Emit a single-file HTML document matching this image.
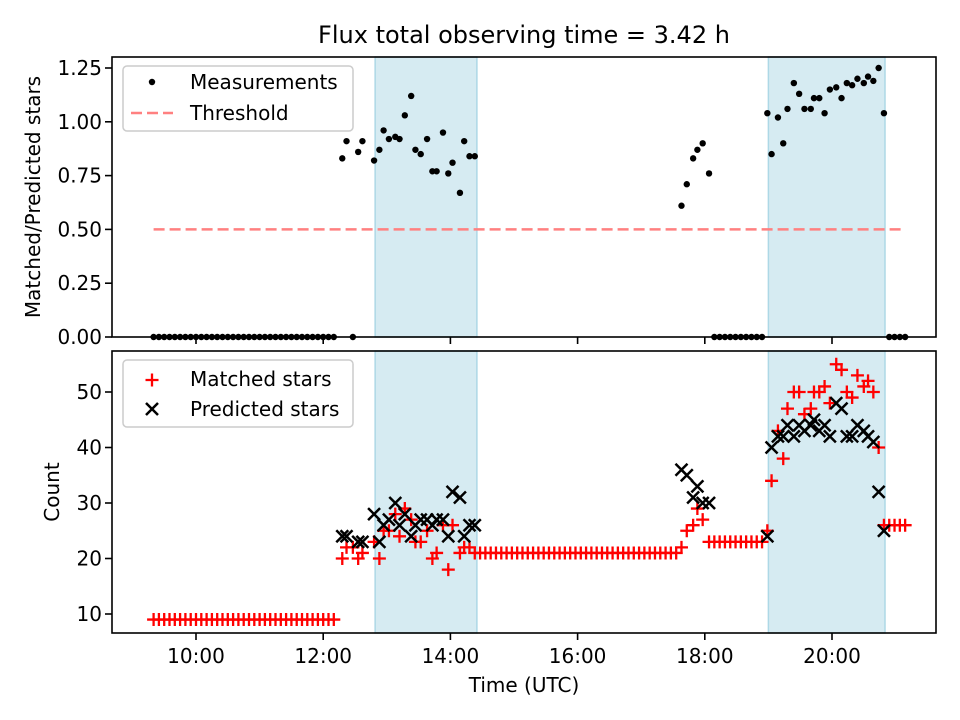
<!DOCTYPE html>
<html><head><meta charset="utf-8"><style>
body{margin:0;background:#fff}
svg{display:block;font-family:"DejaVu Sans","Liberation Sans",sans-serif}
</style></head><body>
<svg id="chart" width="960" height="720" viewBox="0 0 960 720"></svg>
<script>
// time in minutes since midnight
const times = [560,565,570,575,580,585,590,595,600,605,610,615,620,625,630,635,640,645,650,655,660,665,670,675,680,685,690,695,700,705,710,715,720,725,730,
738,742,748,753,757,768,773,777,782,788,792,797,803,807,812,818,823,827,833,838,842,849,853,858,863,
868,873,878,883,888,893,898,903,908,913,918,923,928,933,938,943,948,953,958,963,968,973,978,983,988,993,998,1003,1008,1013,1018,1023,1028,1033,1038,1043,1048,1053,
1058,1063,1069,1073,1078,1084,
1089,1094,1099,1104,1109,1114,1119,1124,1129,1134,
1139,1143,1149,1154,1158,1164,1169,1174,1180,1183,1188,1193,1198,1204,1209,1214,1219,1224,1230,1234,1239,1244,1249,
1254,1259,1264,1269];
const matched = [9,9,9,9,9,9,9,9,9,9,9,9,9,9,9,9,9,9,9,9,9,9,9,9,9,9,9,9,9,9,9,9,9,9,9,
20,22,22,20,21,23,20,25,25,28,24,29,27,23,23,25,20,21,26,18,26,21,22,22,21,
21,21,21,21,21,21,21,21,21,21,21,21,21,21,21,21,21,21,21,21,21,21,21,21,21,21,21,21,21,21,21,21,21,21,21,21,21,21,
22,25,26,29,27,23,
23,23,23,23,23,23,23,23,23,23,
25,34,43,38,47,50,50,46,47,50,50,51,48,55,54,50,49,53,51,52,50,40,26,
26,26,26,26];
const predicted = [null,null,null,null,null,null,null,null,null,null,null,null,null,null,null,null,null,null,null,null,null,null,null,null,null,null,null,null,null,null,null,null,null,null,null,
24,24,null,23,23,28,23,26,27,30,26,28,24,26,27,27,26,27,27,24,32,31,24,26,26,
null,null,null,null,null,null,null,null,null,null,null,null,null,null,null,null,null,null,null,null,null,null,null,null,null,null,null,null,null,null,null,null,null,null,null,null,null,null,
36,35,31,33,30,30,
null,null,null,null,null,null,null,null,null,null,
24,40,42,42,44,42,44,43,44,45,43,44,42,48,47,42,42,44,43,42,41,32,25,
null,null,null,null];
const ratio = [0,0,0,0,0,0,0,0,0,0,0,0,0,0,0,0,0,0,0,0,0,0,0,0,0,0,0,0,0,0,0,0,0,0,0,
0.83,0.91,0,0.86,0.91,0.82,0.87,0.96,0.92,0.93,0.92,1.03,1.12,0.87,0.85,0.92,0.77,0.77,0.95,0.76,0.81,0.67,0.91,0.84,0.84,
null,null,null,null,null,null,null,null,null,null,null,null,null,null,null,null,null,null,null,null,null,null,null,null,null,null,null,null,null,null,null,null,null,null,null,null,null,null,
0.61,0.71,0.83,0.87,0.90,0.76,
0,0,0,0,0,0,0,0,0,0,
1.04,0.85,1.02,0.90,1.06,1.18,1.13,1.06,1.06,1.11,1.11,1.04,1.15,1.16,1.11,1.18,1.17,1.20,1.18,1.21,1.19,1.25,1.04,
0,0,0,0];
const spans = [[769,865],[1140,1250]];
const threshold = 0.5;
const thresholdRange = [560,1269];
const xTickMinutes = [600,720,840,960,1080,1200];
const xTickLabels = ["10:00","12:00","14:00","16:00","18:00","20:00"];
const topTicks = [0,0.25,0.5,0.75,1.0,1.25];
const topTickLabels = ["0.00","0.25","0.50","0.75","1.00","1.25"];
const botTicks = [10,20,30,40,50];
const botTickLabels = ["10","20","30","40","50"];

const NS="http://www.w3.org/2000/svg";
const svg=document.getElementById('chart');
function el(tag,attrs,parent){const e=document.createElementNS(NS,tag);for(const k in attrs)e.setAttribute(k,attrs[k]);(parent||svg).appendChild(e);return e;}
const L=112,R=936,T1=57,B1=337,T2=351,B2=633;
const x=m=>196+(m-600)/60*63.6;
const y1=v=>337-v*215.2;
const y2=v=>614-(v-10)*5.55;

let t=el('text',{x:524,y:43,'text-anchor':'middle','font-size':'24'});t.textContent='Flux total observing time = 3.42 h';



function panel(top,bot,name){
  const g=el('g',{});
  
  
  spans.forEach((s,i)=>{const r=el('rect',{x:x(s[0]),y:top,width:x(s[1])-x(s[0]),height:bot-top,fill:'#add8e6','fill-opacity':0.5,stroke:'#add8e6','stroke-width':1.5},g);
    
    });
  return g;
}
const g1=panel(T1,B1,'top-panel');
const g2=panel(T2,B2,'bottom-panel');

const th=el('line',{x1:x(thresholdRange[0]),x2:x(thresholdRange[1]),y1:y1(threshold),y2:y1(threshold),stroke:'#ff8080','stroke-width':2.5,'stroke-dasharray':'11,5'},g1);



times.forEach((m,i)=>{if(ratio[i]===null)return;
  const c=el('circle',{cx:x(m),cy:y1(ratio[i]),r:3.2,fill:'#000'},g1);
  
  });

times.forEach((m,i)=>{const cx=x(m),cy=y2(matched[i]);
  const p=el('path',{d:`M${cx-6.5},${cy}H${cx+6.5}M${cx},${cy-6.5}V${cy+6.5}`,stroke:'#f00','stroke-width':2.3,fill:'none'},g2);
  
  });
times.forEach((m,i)=>{if(predicted[i]===null)return;const cx=x(m),cy=y2(predicted[i]);
  const p=el('path',{d:`M${cx-6},${cy-6}L${cx+6},${cy+6}M${cx-6},${cy+6}L${cx+6},${cy-6}`,stroke:'#000','stroke-width':2.5,fill:'none'},g2);
  
  });

[[T1,B1,g1],[T2,B2,g2]].forEach(([a,b,g],k)=>{
  const f=el('rect',{x:L,y:a,width:R-L,height:b-a,fill:'none',stroke:'#000','stroke-width':1.6},g);
  
  
  xTickMinutes.forEach((m,i)=>{el('line',{x1:x(m),x2:x(m),y1:b,y2:b+7,stroke:'#000','stroke-width':1.6},g);
    if(k===1){const tx=el('text',{x:x(m),y:b+30,'text-anchor':'middle','font-size':'20'},g);tx.textContent=xTickLabels[i];
      
      }});
});
topTicks.forEach((v,i)=>{el('line',{x1:L-7,x2:L,y1:y1(v),y2:y1(v),stroke:'#000','stroke-width':1.6},g1);
  const tx=el('text',{x:L-10,y:y1(v)+7,'text-anchor':'end','font-size':'20'},g1);tx.textContent=topTickLabels[i];
  
  });
botTicks.forEach((v,i)=>{el('line',{x1:L-7,x2:L,y1:y2(v),y2:y2(v),stroke:'#000','stroke-width':1.6},g2);
  const tx=el('text',{x:L-10,y:y2(v)+7,'text-anchor':'end','font-size':'20'},g2);tx.textContent=botTickLabels[i];
  
  });

let a=el('text',{x:40,y:197,'text-anchor':'middle','font-size':'20',transform:'rotate(-90 40 197)'});a.textContent='Matched/Predicted stars';


a=el('text',{x:59,y:492,'text-anchor':'middle','font-size':'20',transform:'rotate(-90 59 492)'});a.textContent='Count';


a=el('text',{x:524,y:692,'text-anchor':'middle','font-size':'20'});a.textContent='Time (UTC)';



function legend(y0,h,name){const g=el('g',{});
  
  
  el('rect',{x:123,y:y0,width:230,height:h,rx:4,fill:'#fff','fill-opacity':0.8,stroke:'#ccc','stroke-width':1.5},g);return g;}
let lg=legend(66,65,'top-legend');
el('circle',{cx:152,cy:82,r:3.2,fill:'#000'},lg);
a=el('text',{x:190,y:89,'font-size':'20'},lg);a.textContent='Measurements';


el('line',{x1:131,x2:173,y1:113,y2:113,stroke:'#ff8080','stroke-width':2.5,'stroke-dasharray':'11,5'},lg);
a=el('text',{x:190,y:120,'font-size':'20'},lg);a.textContent='Threshold';


lg=legend(360,67,'bottom-legend');
el('path',{d:'M145.5,380H158.5M152,373.5V386.5',stroke:'#f00','stroke-width':2.3},lg);
a=el('text',{x:190,y:386,'font-size':'20'},lg);a.textContent='Matched stars';


el('path',{d:'M146,403L158,415M146,415L158,403',stroke:'#000','stroke-width':2.5},lg);
a=el('text',{x:190,y:416,'font-size':'20'},lg);a.textContent='Predicted stars';


</script>
</body></html>
